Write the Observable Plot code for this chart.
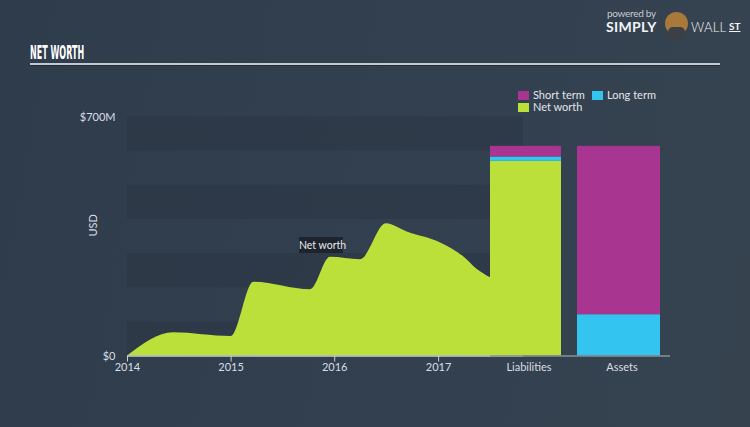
<!DOCTYPE html>
<html><head><meta charset="utf-8">
<script src="https://cdn.jsdelivr.net/npm/d3@7"></script>
<script src="https://cdn.jsdelivr.net/npm/@observablehq/plot@0.6"></script>
<style>
body{margin:0;background:#323f4e;}
#wrap{position:relative;width:750px;height:427px;overflow:hidden;background:linear-gradient(100deg,#2f3c4b 0%,#334050 60%,#36434f 100%);font-family:Lato,"Open Sans",sans-serif;}
#wrap svg{position:absolute;left:0;top:0;}
.abs{position:absolute;white-space:nowrap;}
#title{left:30px;top:42px;font-family:"Liberation Sans Narrow","DejaVu Sans Condensed",sans-serif;font-weight:bold;font-size:19px;line-height:20px;color:#fff;transform:scaleX(0.47);transform-origin:left top;}
#titleLine{left:30px;top:63px;width:690px;height:2px;background:#c3c9cf;box-shadow:0 1px 0 #222c38;}
.leg{font-size:11px;color:#e2e6ea;}
.sw{position:absolute;width:11px;height:9px;}
#tip{left:299px;top:237px;width:44px;height:16px;background:#1d242d;color:#e8ebee;font-size:10.5px;line-height:16px;text-align:center;}
</style></head><body><div id="wrap"></div>
<script>
// Net worth history (USD millions)
const nwDates = ["2014-01-01","2014-06-13","2015-01-01","2015-03-22","2015-10-08","2015-12-17","2016-04-01","2016-07-01","2016-09-12","2017-01-10","2017-04-01","2017-05-15","2017-07-03"];
const nwValues = [0, 68, 57, 216, 194, 289, 282, 387, 363, 330, 289, 255, 229];
// Balance bars (USD millions)
const barCategories = ["Liabilities","Assets"];
const shortTermVals = [31, 493];
const longTermVals = [13, 121];
const netWorthVals = [570, 0];
const seriesNames = ["Short term","Long term","Net worth"];
const seriesColors = ["#a8358f","#33c4ef","#bce03a"];
const stackOrder = ["Net worth","Long term","Short term"];
// Axes
const yTicks = [0, 700];
const xTickYears = ["2014","2015","2016","2017"];
const stripeBands = [[0,100],[200,300],[400,500],[600,700]];

const wrap = document.getElementById("wrap");
const nw = nwDates.map((d,i)=>({date:new Date(d+"T00:00:00Z"), value:nwValues[i]}));
const style = {background:"transparent", color:"#d9dee3", fontFamily:"Lato, 'Open Sans', sans-serif", fontSize:"11px", overflow:"visible"};

const p1 = Plot.plot({
  width:750, height:427, marginLeft:127, marginRight:227, marginTop:116.5, marginBottom:71.5,
  style,
  x:{type:"utc", domain:[new Date("2014-01-01T00:00:00Z"), new Date("2017-10-27T00:00:00Z")]},
  y:{domain:[0,700]},
  marks:[
    Plot.rect(stripeBands,{y1:d=>d[0], y2:d=>d[1], fill:"#2b3745", fillOpacity:0.6}),
    Plot.areaY(nw,{x:"date", y:"value", curve:"monotone-x", fill:seriesColors[2]}),
    Plot.ruleY([0],{stroke:"#c9cfd5", strokeWidth:1.5}),
    Plot.axisX({ticks:xTickYears.map(y=>new Date(y+"-01-01T00:00:00Z")), tickFormat:d3.utcFormat("%Y"), tickSize:6, tickPadding:1, stroke:"#c9cfd5", label:null}),
    Plot.axisY({ticks:yTicks, tickFormat:d=>d===0?"$0":`$${d}M`, tickSize:0, tickPadding:12, label:null}),
    Plot.text(["USD"],{text:d=>d, frameAnchor:"left", dx:-34, rotate:-90, fill:"#d9dee3", fontSize:11})
  ]
});
wrap.appendChild(p1);

const rows = [];
barCategories.forEach((c,i)=>{
  rows.push({cat:c, series:"Net worth", value:netWorthVals[i]});
  rows.push({cat:c, series:"Long term", value:longTermVals[i]});
  rows.push({cat:c, series:"Short term", value:shortTermVals[i]});
});
const p2 = Plot.plot({
  width:750, height:427, marginLeft:490, marginRight:80, marginTop:116.5, marginBottom:71.5,
  style,
  x:{domain:barCategories, range:[490,662], paddingInner:0.17, paddingOuter:0, align:0},
  y:{domain:[0,700], axis:null},
  color:{domain:seriesNames, range:seriesColors},
  marks:[
    Plot.barY(rows.filter(d=>d.cat===barCategories[0]),{x:"cat", y:"value", fill:"series", order:stackOrder, insetRight:6}),
    Plot.barY(rows.filter(d=>d.cat===barCategories[1]),{x:"cat", y:"value", fill:"series", order:stackOrder, insetLeft:-6}),
    Plot.ruleY([0],{stroke:"#8a9198", strokeWidth:1.5}),
    Plot.axisX({tickSize:0, tickPadding:7, label:null})
  ]
});
wrap.appendChild(p2);

function el(cls, id, html, css){
  const d=document.createElement("div"); d.className=cls; if(id) d.id=id; d.innerHTML=html||""; if(css) Object.assign(d.style,css); wrap.appendChild(d); return d;
}
el("abs","title","NET WORTH");
el("abs","titleLine","");
el("abs","tip","Net worth");
// legend
const legendPos = [[518,91],[592,91],[518,103]];
seriesNames.forEach((n,i)=>{
  const [x,y]=legendPos[i];
  el("sw",null,"",{left:x+"px",top:y+"px",background:seriesColors[i]});
  el("abs leg",null,n,{left:(x+15)+"px",top:(y-3)+"px"});
});
// logo
el("abs",null,"powered by",{left:"607px",top:"7px",fontSize:"10px",lineHeight:"12px",color:"#c5cbd1",letterSpacing:"-0.3px"});
el("abs",null,"SIMPLY",{left:"606px",top:"20px",fontSize:"14px",lineHeight:"14px",fontWeight:"bold",color:"#f2f4f6",letterSpacing:"0.3px"});
el("abs",null,"",{left:"665px",top:"12px",width:"23px",height:"23px",borderRadius:"50%",background:"#a9793b"});
el("abs",null,"",{left:"668px",top:"27px",width:"17px",height:"12px",borderRadius:"5px 5px 0 0",background:"#3b3f46"});
el("abs",null,"WALL",{left:"691px",top:"20px",fontSize:"13px",lineHeight:"14px",fontWeight:"300",color:"#f2f4f6",letterSpacing:"0.2px"});
el("abs",null,"ST",{left:"729px",top:"20px",fontSize:"10px",lineHeight:"12px",fontWeight:"bold",color:"#f2f4f6",textDecoration:"underline"});
</script>
</body></html>
